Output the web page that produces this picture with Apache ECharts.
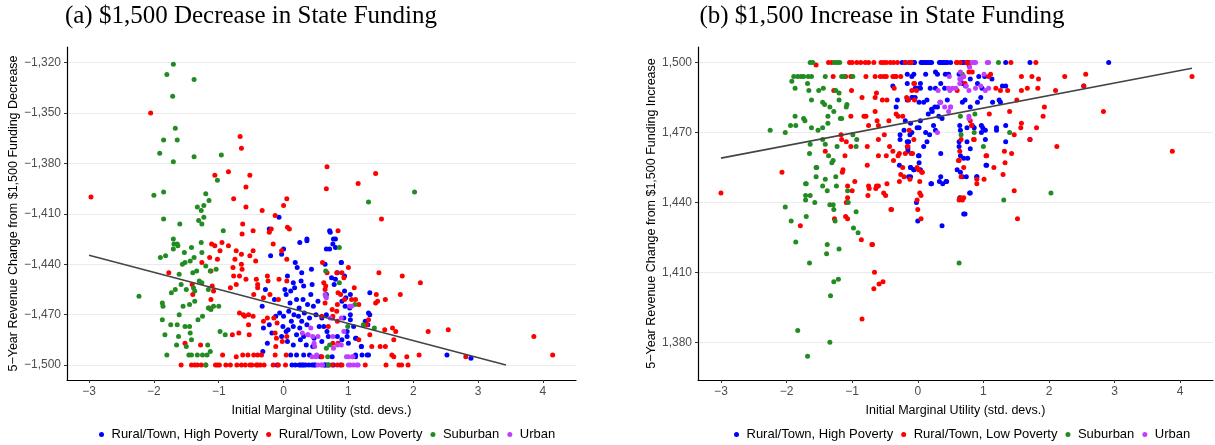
<!DOCTYPE html>
<html>
<head>
<meta charset="utf-8">
<script src="https://cdn.jsdelivr.net/npm/echarts@6/dist/echarts.min.js"></script>
<style>
  html, body { margin: 0; padding: 0; background: #fff; }
  #chart { width: 1215px; height: 445px; }
</style>
</head>
<body>
<div id="chart"></div>
<script>
// tick labels
const xTicks = [-3, -2, -1, 0, 1, 2, 3, 4];
const yTicksA = [-1500, -1470, -1440, -1410, -1380, -1350, -1320];
const yTicksB = [1380, 1410, 1440, 1470, 1500];

const groups = ["Rural/Town, High Poverty", "Rural/Town, Low Poverty", "Suburban", "Urban"];

// (a) decrease panel: [marginal utility, revenue change]
const aHigh = [[-0.07,-1412],[-0.22,-1419],[0.71,-1420],[0.80,-1425],[0.36,-1425],[-0.2,-1435],[-0.03,-1434],[0,-1431],[0.25,-1427],[0.36,-1426],[0.72,-1421],[0.66,-1431],[0.76,-1428],[0.18,-1439],[0.21,-1442],[0.28,-1445],[0.43,-1443],[0.64,-1440],[0.89,-1439],[0.83,-1445],[0.74,-1448],[0.80,-1449],[0.94,-1447],[0.78,-1452],[0.66,-1458],[0.94,-1456],[1.03,-1458],[0.96,-1460],[0.90,-1462],[0.06,-1447],[0.15,-1451],[0.27,-1450],[0.31,-1453],[0.44,-1452],[-0.28,-1455],[-0.14,-1461],[0.02,-1455],[0.04,-1458],[0.11,-1456],[0.17,-1454],[0.20,-1461],[0.30,-1461],[0.37,-1464],[0.46,-1465],[-0.33,-1465],[-0.12,-1471],[-0.06,-1469],[0,-1471],[0.08,-1468],[0.16,-1470],[0.23,-1471],[0.32,-1469],[0.40,-1472],[0.50,-1470],[0.59,-1472],[0.66,-1470],[0.75,-1472],[0.93,-1472],[1.03,-1470],[-0.31,-1478],[-0.22,-1476],[-0.01,-1477],[0.07,-1479],[0.15,-1477],[0.25,-1478],[0.36,-1476],[0.62,-1477],[0.67,-1480],[0.98,-1480],[1.08,-1477],[1.11,-1484],[-0.25,-1487],[-0.03,-1483],[0.06,-1486],[0.15,-1488],[0.26,-1485],[0.31,-1483],[0.47,-1484],[0.59,-1486],[0.69,-1483],[0.83,-1483],[0.90,-1485],[1.0,-1487],[1.20,-1489],[1.30,-1476],[1.31,-1469],[-0.32,-1492],[0.11,-1494],[0.20,-1494],[0.31,-1494],[0.40,-1494],[0.57,-1495],[0.75,-1495],[1.11,-1494],[1.21,-1494],[1.31,-1494],[-0.10,-1500],[0.13,-1500],[0.18,-1500],[0.24,-1500],[0.29,-1500],[0.34,-1500],[0.39,-1500],[0.44,-1500],[0.47,-1500],[0.63,-1500],[0.70,-1500],[0.77,-1500],[0.88,-1500],[0.26,-1500],[0.31,-1500],[0.49,-1500],[0.64,-1500],[0.67,-1500],[1.33,-1457],[1.33,-1470],[1.26,-1474],[1.20,-1489],[1.29,-1494],[2.52,-1494],[2.89,-1496],[1.03,-1473],[0.89,-1439],[0.80,-1430],[0.71,-1431],[0.77,-1425],[1.02,-1466],[0.95,-1465],[0.98,-1483],[1.12,-1484],[1.11,-1495],[0.10,-1463],[0.24,-1466],[0.42,-1458],[0.53,-1462],[0.55,-1477],[0.12,-1474],[0.28,-1474],[0.45,-1489],[0.20,-1482],[0.04,-1480],[-0.18,-1481],[0.35,-1488]];
const aLow = [[-2.97,-1400],[-2.05,-1350],[-0.67,-1364],[-0.65,-1371],[-1.06,-1387],[-0.85,-1385],[-0.52,-1387],[-0.58,-1394],[-0.77,-1401],[-0.58,-1406],[-0.33,-1408],[0.05,-1401],[0.0,-1405],[-0.13,-1411],[-0.63,-1416],[-0.47,-1420],[-0.64,-1422],[-0.19,-1419],[-0.22,-1421],[0.06,-1418],[0.09,-1419],[0.67,-1382],[1.42,-1386],[1.15,-1392],[0.66,-1395],[1.51,-1413],[0.84,-1420],[-0.95,-1427],[-1.11,-1428],[-1.06,-1429],[-0.85,-1429],[-0.98,-1432],[-0.73,-1432],[-0.47,-1432],[-0.16,-1428],[-0.03,-1432],[-0.65,-1434],[-0.75,-1437],[-0.52,-1435],[-0.43,-1438],[0.05,-1437],[-1.26,-1439],[-1.14,-1436],[-1.02,-1437],[-0.78,-1442],[-0.65,-1440],[-0.64,-1443],[-1.12,-1444],[-1.77,-1445],[-0.77,-1447],[-0.68,-1447],[-0.58,-1449],[-0.42,-1449],[-0.25,-1447],[-0.07,-1449],[0.05,-1450],[-0.40,-1452],[-0.40,-1454],[-0.24,-1450],[-0.82,-1454],[-0.73,-1452],[-1.10,-1453],[-1.08,-1456],[-1.40,-1458],[-1.41,-1452],[-1.15,-1466],[-1.12,-1461],[-0.46,-1458],[-0.31,-1460],[-0.21,-1458],[-0.08,-1461],[-0.62,-1470],[-0.60,-1471],[-0.54,-1470],[-0.47,-1471],[-0.68,-1469],[-0.31,-1474],[-0.25,-1472],[-0.15,-1472],[-0.10,-1475],[-0.54,-1476],[-0.79,-1482],[-0.69,-1481],[-0.53,-1482],[-0.13,-1481],[-0.11,-1484],[-0.02,-1486],[0.05,-1483],[-1.52,-1487],[-1.28,-1488],[-0.12,-1489],[-0.94,-1494],[-0.73,-1495],[-0.63,-1494],[-0.55,-1494],[-0.46,-1494],[-0.40,-1494],[-0.34,-1494],[-0.13,-1494],[0.04,-1494],[-1.58,-1500],[-1.42,-1500],[-1.37,-1500],[-1.33,-1500],[-1.27,-1500],[-1.20,-1500],[-1.05,-1500],[-1.02,-1500],[-0.99,-1500],[-0.89,-1500],[-0.82,-1500],[-0.72,-1500],[-0.65,-1500],[-0.59,-1500],[-0.52,-1500],[-0.49,-1500],[-0.42,-1500],[-0.40,-1500],[-0.36,-1500],[-0.30,-1500],[-0.16,-1500],[-0.08,-1500],[0.03,-1500],[0.75,-1500],[0.83,-1500],[0.90,-1500],[1.26,-1500],[1.58,-1500],[1.78,-1500],[1.82,-1500],[1.92,-1500],[0.60,-1439],[0.67,-1445],[0.82,-1445],[0.90,-1445],[1.0,-1442],[0.93,-1448],[1.47,-1445],[1.83,-1447],[2.11,-1451],[1.80,-1458],[1.43,-1458],[1.57,-1461],[1.45,-1462],[1.42,-1463],[1.09,-1454],[1.05,-1461],[1.11,-1461],[1.16,-1464],[0.65,-1453],[0.64,-1463],[0.84,-1457],[0.88,-1458],[0.94,-1461],[0.82,-1468],[0.76,-1471],[1.31,-1473],[1.28,-1476],[1.33,-1482],[1.56,-1479],[1.68,-1478],[1.73,-1480],[1.70,-1485],[2.23,-1480],[2.54,-1479],[3.86,-1483],[4.15,-1494],[1.16,-1485],[1.36,-1489],[1.49,-1489],[1.57,-1489],[0.76,-1487],[0.84,-1487],[0.59,-1495],[1.67,-1494],[1.70,-1495],[1.90,-1495],[2.09,-1494],[2.81,-1495],[0.62,-1451],[0.64,-1455],[0.83,-1464],[0.75,-1467],[0.59,-1471],[0.83,-1474],[0.69,-1477]];
const aSub = [[-1.70,-1321],[-1.80,-1327],[-1.38,-1330],[-1.71,-1340],[-1.67,-1359],[-1.85,-1366],[-1.64,-1366],[-1.91,-1374],[-1.70,-1379],[-1.38,-1376],[-0.96,-1375],[-1.02,-1390],[-2.0,-1399],[-1.85,-1397],[-1.20,-1398],[-1.15,-1402],[-1.33,-1406],[-1.23,-1405],[-1.27,-1408],[-1.31,-1414],[-1.23,-1412],[-1.26,-1416],[-1.85,-1413],[-1.6,-1416],[-0.93,-1420],[-1.70,-1425],[2.02,-1397],[1.31,-1403],[-1.69,-1428],[-1.64,-1428],[-1.63,-1429],[-1.70,-1431],[-1.42,-1430],[-1.27,-1427],[-1.53,-1433],[-1.26,-1433],[-1.90,-1436],[-1.44,-1438],[-1.38,-1436],[-1.52,-1439],[-1.56,-1440],[-1.20,-1441],[-1.04,-1443],[-1.13,-1444],[-1.34,-1444],[-1.40,-1445],[-1.61,-1446],[-1.30,-1450],[-1.26,-1451],[-1.67,-1455],[-1.73,-1457],[-1.58,-1452],[-1.50,-1455],[-1.39,-1454],[-1.37,-1456],[-1.16,-1455],[-2.23,-1459],[-1.87,-1463],[-1.86,-1465],[-1.55,-1465],[-1.45,-1464],[-1.37,-1462],[-1.08,-1465],[-1.0,-1465],[-1.12,-1467],[-1.16,-1466],[-1.61,-1470],[-1.87,-1473],[-1.32,-1473],[-1.25,-1471],[-1.74,-1476],[-1.64,-1476],[-1.52,-1477],[-1.45,-1477],[-1.83,-1482],[-0.98,-1480],[-0.90,-1482],[-1.62,-1483],[-1.44,-1481],[-1.42,-1485],[-1.65,-1488],[-1.50,-1489],[-1.17,-1488],[-1.80,-1494],[-1.46,-1494],[-1.42,-1494],[-1.33,-1494],[-1.25,-1494],[-1.18,-1494],[-1.13,-1492],[-1.20,-1500],[-1.82,-1435],[0.86,-1430],[0.65,-1444],[0.86,-1451],[0.65,-1459],[1.10,-1464],[0.99,-1477],[1.23,-1476],[1.40,-1478],[0.66,-1490],[0.69,-1500],[0.71,-1488],[0.68,-1495]];
const aUrb = [[0.64,-1458],[0.89,-1472],[0.42,-1478],[0.29,-1481],[0.47,-1487],[0.53,-1483],[0.38,-1482],[0.83,-1488],[0.89,-1488],[1.02,-1465],[1.05,-1465],[1.0,-1495],[1.07,-1495],[0.51,-1494],[0.6,-1500],[1.03,-1500],[1.08,-1500],[1.15,-1500],[0.53,-1500],[0.45,-1483],[0.48,-1489],[0.37,-1482],[0.5,-1495],[0.66,-1460],[0.93,-1480],[0.97,-1495],[1.06,-1495],[1.13,-1500],[1.0,-1500],[0.76,-1483],[0.77,-1490],[0.72,-1472],[0.58,-1500],[0.44,-1495]];

// (b) increase panel
const bHigh = [[-0.24,1500],[-0.19,1500],[-0.13,1500],[-0.05,1500],[0.05,1500],[0.09,1500],[0.14,1500],[0.19,1500],[0.35,1500],[0.39,1500],[0.45,1500],[0.50,1500],[0.70,1500],[0.78,1500],[-0.06,1500],[0.07,1500],[0.12,1500],[0.17,1500],[0.21,1500],[0.33,1500],[0.36,1500],[0.40,1500],[0.43,1500],[0.68,1500],[0.75,1500],[1.34,1500],[1.71,1500],[2.91,1500],[-0.16,1495],[-0.06,1495],[0.12,1495],[0.27,1496],[0.30,1495],[0.42,1495],[0.47,1495],[0.63,1495],[0.80,1493],[0.93,1494],[1.02,1494],[-0.16,1491],[-0.04,1489],[0.04,1489],[0.19,1489],[0.27,1489],[0.35,1491],[0.41,1489],[0.68,1491],[0.73,1490],[0.91,1491],[0.98,1489],[1.13,1493],[1.29,1490],[1.34,1490],[-0.09,1485],[0.02,1483],[0.09,1483],[0.14,1484],[0.21,1480],[0.26,1481],[0.30,1481],[0.34,1483],[0.45,1484],[0.68,1483],[0.72,1484],[0.80,1481],[0.91,1483],[0.96,1485],[1.14,1483],[1.24,1484],[1.26,1483],[0.16,1478],[0.22,1479],[0.32,1477],[0.37,1476],[0.04,1475],[-0.11,1474],[0.02,1472],[-0.09,1470],[-0.01,1472],[0.24,1473],[0.27,1471],[0.64,1473],[0.65,1471],[0.75,1472],[0.83,1473],[0.86,1472],[0.97,1473],[1.03,1471],[1.20,1471],[1.34,1473],[0.12,1470],[0.18,1469],[0.14,1466],[0.09,1464],[0.35,1461],[0.02,1460],[-0.11,1455],[-0.06,1454],[-0.14,1451],[0.04,1454],[0.21,1448],[0.35,1451],[0.33,1449],[0.38,1448],[0.43,1449],[-0.02,1440],[0,1432],[0.37,1430],[0.60,1454],[0.65,1453],[0.68,1451],[0.74,1451],[0.63,1464],[0.63,1466],[0.75,1466],[0.80,1463],[0.65,1460],[0.70,1459],[0.76,1459],[0.99,1472],[0.97,1470],[1.03,1467],[1.04,1456],[0.80,1444],[0.70,1435],[0.90,1451],[1.20,1472],[1.34,1466],[1.71,1467],[2.53,1490],[-0.38,1490],[-0.31,1484],[-0.33,1481],[-0.27,1469],[-0.21,1471],[-0.12,1469],[-0.09,1494],[-0.02,1489],[0,1489],[0.04,1491],[-0.08,1485],[-0.04,1485],[-0.16,1484],[-0.19,1475],[-0.14,1466],[-0.27,1467],[-0.15,1462],[-0.16,1466],[-0.15,1463],[0.01,1460],[-0.28,1456],[-0.11,1455],[0.02,1457],[-0.06,1454],[-0.11,1451],[0.20,1448],[0.44,1449],[0.64,1442],[0.72,1435],[0.79,1444],[0.90,1451],[1.05,1456]];
const bLow = [[-1.55,1499],[-1.36,1500],[-1.31,1500],[-1.04,1500],[-1.0,1500],[-0.93,1500],[-0.87,1500],[-0.80,1500],[-0.75,1500],[-0.67,1500],[-0.56,1500],[-0.52,1500],[-0.48,1500],[-0.42,1500],[-0.37,1500],[-0.31,1500],[-0.10,1500],[-0.19,1500],[-0.12,1500],[0.59,1500],[0.65,1500],[0.75,1500],[0.60,1500],[0.77,1500],[1.42,1500],[1.80,1500],[-1.29,1494],[-1.10,1494],[-1.02,1494],[-0.79,1494],[-0.65,1494],[-0.57,1494],[-0.52,1494],[-0.48,1494],[-0.38,1494],[-0.35,1494],[-0.33,1494],[-0.26,1494],[1.58,1494],[1.74,1494],[1.84,1493],[2.24,1494],[2.56,1495],[4.18,1494],[1.11,1495],[1.08,1494],[0.83,1496],[-1.28,1488],[-1.01,1488],[-0.85,1485],[-0.63,1487],[-0.65,1485],[-0.54,1484],[-0.47,1484],[-0.36,1489],[-0.14,1484],[-0.17,1485],[-0.06,1491],[-0.02,1488],[-0.09,1488],[-0.65,1479],[-0.82,1477],[-0.79,1477],[-1.02,1477],[-0.62,1475],[-0.44,1475],[-0.30,1477],[-0.33,1478],[-0.23,1477],[-0.60,1473],[-0.75,1473],[-0.51,1469],[-0.60,1467],[-0.48,1460],[-0.38,1462],[-0.28,1461],[-0.19,1461],[-0.77,1464],[-1.11,1460],[-1.16,1467],[-1.09,1466],[-1.41,1462],[-1.17,1469],[-1.02,1464],[-2.07,1453],[-3.0,1444],[-1.79,1430],[-1.15,1453],[-1.14,1454],[-0.96,1449],[-1.07,1442],[-1.09,1440],[-1.07,1447],[-1.10,1434],[-1.07,1433],[-1.27,1433],[-0.40,1437],[-0.75,1447],[-0.63,1447],[-0.60,1447],[-0.47,1448],[-0.52,1444],[-0.49,1443],[-0.23,1455],[-0.28,1449],[-0.21,1451],[-1.0,1445],[-0.86,1424],[-0.70,1422],[-0.77,1456],[-0.60,1460],[-0.43,1464],[-0.37,1458],[-0.30,1460],[-0.16,1464],[-0.08,1461],[-0.01,1455],[0.06,1453],[-0.26,1452],[-0.12,1450],[0.03,1449],[-0.64,1446],[-0.74,1446],[-0.76,1443],[-0.41,1437],[-0.01,1441],[0.0,1437],[0.05,1433],[0.03,1444],[0.65,1442],[0.68,1441],[0.63,1441],[0.66,1451],[0.90,1450],[0.90,1448],[1.01,1450],[1.16,1455],[1.30,1452],[1.33,1457],[1.32,1462],[1.05,1460],[0.62,1458],[0.64,1462],[-0.10,1461],[0.01,1454],[1.58,1488],[1.67,1489],[1.83,1489],[2.10,1488],[2.53,1490],[1.51,1484],[1.93,1481],[1.40,1479],[1.09,1478],[1.91,1477],[1.58,1474],[1.57,1472],[1.81,1472],[1.47,1469],[1.71,1467],[2.12,1464],[2.83,1479],[3.88,1462],[1.43,1461],[1.47,1445],[1.52,1433],[1.04,1460],[0.70,1442],[0.05,1443],[0.07,1453],[-0.15,1464],[-0.06,1467],[-0.13,1471],[-0.05,1484],[-0.05,1491],[0.60,1488],[0.72,1491],[0.78,1496],[0.78,1499],[0.80,1475],[0.82,1473],[0.86,1467],[0.66,1467],[0.63,1458],[0.70,1455],[0.85,1467],[1.19,1489],[1.26,1488],[1.37,1488],[-0.69,1422],[-0.66,1410],[-0.59,1405],[-0.53,1406],[-0.67,1403],[-0.85,1390]];
const bSub = [[-1.64,1500],[-1.60,1500],[-1.27,1500],[-1.23,1500],[-1.19,1500],[1.23,1500],[-1.89,1494],[-1.83,1494],[-1.78,1494],[-1.74,1494],[-1.67,1494],[-1.62,1494],[-1.41,1494],[-1.16,1494],[-1.12,1494],[-0.99,1494],[-1.92,1492],[-1.68,1491],[-1.87,1489],[-1.66,1488],[-1.51,1488],[-1.44,1489],[-1.20,1487],[-1.25,1488],[-1.62,1484],[-1.45,1483],[-1.42,1482],[-1.20,1484],[-1.08,1482],[-1.09,1481],[-1.34,1481],[-1.28,1479],[-1.87,1477],[-1.74,1476],[-1.72,1475],[-1.37,1477],[-1.18,1476],[-1.16,1476],[-1.37,1474],[-1.94,1473],[-1.86,1473],[-2.25,1471],[-2.02,1470],[-1.62,1472],[-1.52,1471],[-1.45,1472],[-1.45,1467],[-1.41,1465],[-1.64,1465],[-1.36,1460],[-1.31,1457],[-1.29,1458],[-1.55,1455],[-1.54,1455],[-1.55,1451],[-1.41,1450],[-1.25,1451],[-1.24,1447],[-1.45,1447],[-1.38,1445],[-1.71,1448],[-1.70,1448],[-1.71,1443],[-1.64,1443],[-1.71,1441],[-1.57,1440],[-1.34,1439],[-1.29,1439],[-2.02,1438],[-1.06,1440],[-1.07,1445],[-0.94,1436],[-1.93,1432],[-1.70,1434],[-0.98,1429],[-0.91,1427],[-0.94,1464],[-0.93,1467],[-0.99,1469],[-1.23,1464],[-1.65,1461],[-1.28,1437],[-1.26,1432],[-1.86,1423],[-1.38,1422],[-1.39,1418],[-1.20,1420],[-1.65,1414],[-1.28,1406],[-1.21,1407],[-1.33,1400],[-1.83,1385],[-1.34,1380],[-1.68,1374],[0.63,1414],[1.31,1441],[0.70,1494],[0.65,1477],[0.87,1478],[0.66,1469],[0.86,1470],[1.0,1464],[1.40,1470],[2.03,1444],[0.68,1495]];
const bUrb = [[0.83,1500],[0.88,1500],[1.06,1500],[1.08,1500],[0.86,1500],[0.53,1489],[0.47,1489],[0.34,1483],[0.50,1481],[0.41,1481],[0.66,1493],[0.70,1494],[0.74,1490],[0.78,1477],[1.08,1489],[0.79,1498],[0.65,1496],[0.48,1494],[0.31,1488],[0.49,1488],[0.58,1489],[0.64,1491],[0.78,1488],[0.88,1489],[0.96,1490],[1.01,1495],[1.03,1488],[0.35,1483],[0.47,1479],[0.50,1481],[0.78,1476],[0.30,1470],[0.64,1493]];

// fitted lines, end points
const fitA = [[-3, -1434.7], [3.43, -1500]];
const fitB = [[-3, 1459], [4.18, 1497.6]];

const colors = ["#0000ff", "#ff0000", "#228b22", "#bf3eff"];
const fmt = v => (v < 0 ? "\u2212" : "") + Math.abs(v).toLocaleString("en-US");

const chart = echarts.init(document.getElementById("chart"), null, { renderer: "canvas" });

function xAxis(grid, min, max) {
  return {
    type: "value", gridIndex: grid, min: min, max: max,
    name: "Initial Marginal Utility (std. devs.)",
    nameLocation: "middle", nameGap: 24,
    nameTextStyle: { color: "#000", fontSize: 12.5, fontFamily: "Liberation Sans" },
    axisLine: { show: true, onZero: false, lineStyle: { color: "#000", width: 1.2 } },
    axisTick: { show: true, length: 3, customValues: xTicks, lineStyle: { color: "#333" } },
    axisLabel: { customValues: xTicks, formatter: fmt, color: "#4d4d4d", fontSize: 12, margin: 6, fontFamily: "Liberation Sans" },
    splitLine: { show: false }
  };
}
function yAxis(grid, min, max, ticks, name, gap) {
  return {
    type: "value", gridIndex: grid, min: min, max: max,
    name: name, nameLocation: "middle", nameGap: gap, nameRotate: 90,
    nameTextStyle: { color: "#000", fontSize: 12.5, fontFamily: "Liberation Sans" },
    axisLine: { show: true, onZero: false, lineStyle: { color: "#000", width: 1.2 } },
    axisTick: { show: true, length: 3, customValues: ticks, lineStyle: { color: "#333" } },
    axisLabel: { customValues: ticks, formatter: fmt, color: "#4d4d4d", fontSize: 12, margin: 6, fontFamily: "Liberation Sans" },
    splitLine: { show: true, lineStyle: { color: "#ebebeb", width: 1 } }
  };
}

const panels = [[aHigh, aLow, aSub, aUrb], [bHigh, bLow, bSub, bUrb]];
const series = [];
panels.forEach((sets, p) => {
  sets.forEach((d, i) => {
    series.push({
      name: groups[i], type: "scatter", xAxisIndex: p, yAxisIndex: p,
      data: d, symbolSize: 5, itemStyle: { color: colors[i], opacity: 1 }, z: 2
    });
  });
});
series.push({ type: "line", xAxisIndex: 0, yAxisIndex: 0, data: fitA, symbol: "none", lineStyle: { color: "#444", width: 1.6 }, z: 5, silent: true });
series.push({ type: "line", xAxisIndex: 1, yAxisIndex: 1, data: fitB, symbol: "none", lineStyle: { color: "#444", width: 1.6 }, z: 5, silent: true });

const legendBase = {
  data: groups, orient: "horizontal", top: 423, icon: "circle",
  itemWidth: 10, itemHeight: 5, itemGap: 8,
  textStyle: { color: "#000", fontSize: 13, fontFamily: "Liberation Sans" }
};

chart.setOption({
  animation: false,
  backgroundColor: "#fff",
  grid: [
    { left: 67, top: 47, width: 509, height: 333 },
    { left: 698, top: 47, width: 515, height: 333 }
  ],
  xAxis: [xAxis(0, -3.34, 4.51), xAxis(1, -3.35, 4.5)],
  yAxis: [
    yAxis(0, -1508.9, -1310.7, yTicksA, "5\u2212Year Revenue Change from $1,500 Funding Decrease", 47),
    yAxis(1, 1363.8, 1506.7, yTicksB, "5\u2212Year Revenue Change from $1,500 Funding Increase", 39)
  ],
  legend: [
    Object.assign({ left: 94 }, legendBase),
    Object.assign({ left: 729 }, legendBase)
  ],
  graphic: [
    { type: "text", x: 251, y: 16, style: { text: "(a) $1,500 Decrease in State Funding", font: "25px 'Liberation Serif'", fill: "#000", align: "center", verticalAlign: "middle" } },
    { type: "text", x: 882, y: 16, style: { text: "(b) $1,500 Increase in State Funding", font: "25px 'Liberation Serif'", fill: "#000", align: "center", verticalAlign: "middle" } }
  ],
  series: series
});
</script>
</body>
</html>
